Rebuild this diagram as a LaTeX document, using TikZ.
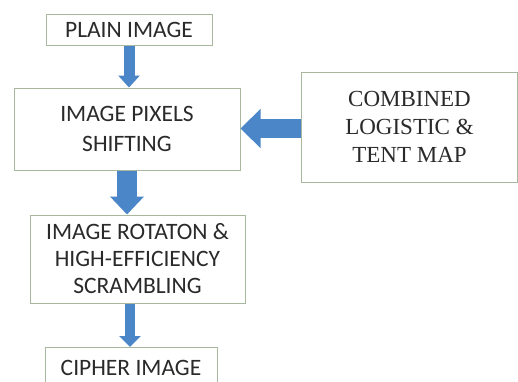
\documentclass[tikz,border=0pt]{standalone}
\usepackage{fontspec}
\setmainfont{Carlito}
\newfontfamily\serifface{Liberation Serif}
\usetikzlibrary{arrows.meta}
\definecolor{boxline}{HTML}{A8B89E}
\definecolor{arrowblue}{HTML}{4A86C8}
\definecolor{txt}{HTML}{2A2A2A}
\tikzset{
  box/.style={draw=boxline, line width=1pt, fill=white, inner sep=0pt, align=center, text=txt, font=\fontsize{23.5}{30}\selectfont},
  flow/.style={draw=arrowblue, line cap=butt}
}
\begin{document}
\begin{tikzpicture}[x=1pt,y=-1pt]
\useasboundingbox (0,0) rectangle (518,381);
\fill[white] (0,0) rectangle (518,381);
\node[box, minimum width=166pt, minimum height=31pt] (plain) at (129,29.5) {PLAIN IMAGE};
\node[box, minimum width=226pt, minimum height=82pt] (shift) at (127,129) {IMAGE PIXELS\\SHIFTING};
\node[box, minimum width=215pt, minimum height=88pt, font=\fontsize{23.5}{27}\selectfont] (rot) at (137.5,259) {IMAGE ROTATON \&\\HIGH-EFFICIENCY\\SCRAMBLING};
\node[box, minimum width=172pt, minimum height=44pt, anchor=north] (cipher) at (131,347) {};
\node[text=txt, font=\fontsize{23.5}{30}\selectfont] (ciphertext) at (131,368) {CIPHER IMAGE};
\node[box, minimum width=216pt, minimum height=110pt, font=\serifface\fontsize{23}{28}\selectfont] (comb) at (409.5,127) {COMBINED\\LOGISTIC \&\\TENT MAP};
\draw[flow, line width=11pt, -{Triangle[width=21pt,length=12pt]}] (plain.south) -- (plain.south |- shift.north);
\draw[flow, line width=20pt, -{Triangle[width=33pt,length=18pt]}] (shift.south) -- (shift.south |- rot.north);
\draw[flow, line width=10pt, -{Triangle[width=21pt,length=11pt]}] ([xshift=-7.5pt]rot.south) -- ([xshift=-7.5pt]rot.south |- cipher.north);
\draw[flow, line width=19pt, -{Triangle[width=38pt,length=20pt]}] ([yshift=-1.5pt]comb.west) -- ([yshift=-1.5pt]comb.west -| shift.east);
\end{tikzpicture}
\end{document}
